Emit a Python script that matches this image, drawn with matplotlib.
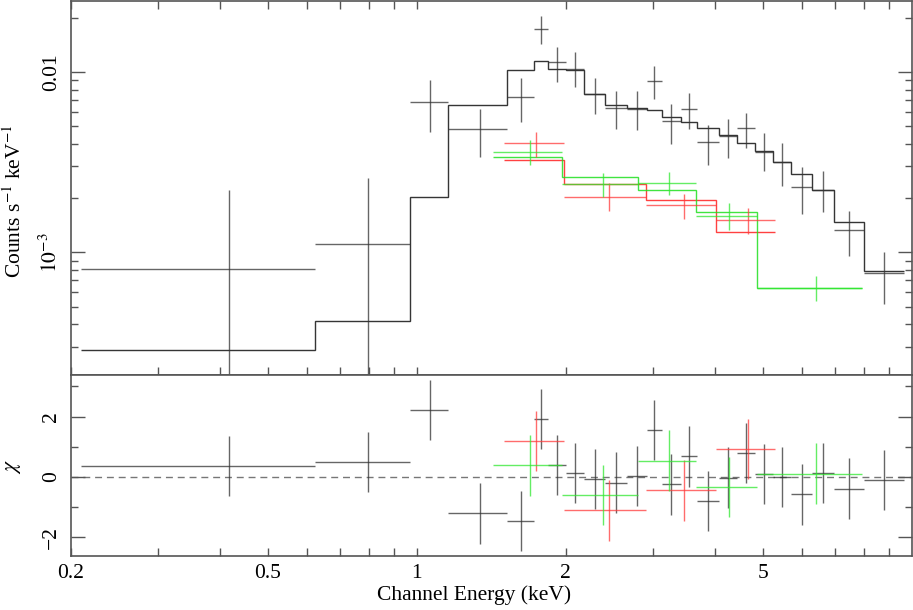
import numpy as np
import matplotlib
matplotlib.use('Agg')
import matplotlib.pyplot as plt
from matplotlib.ticker import FixedLocator, FuncFormatter, LogLocator, NullFormatter

###############################
# data
###############################

# black spectrum
black_edges = [0.2093, 0.6230, 0.9679, 1.1578, 1.5249, 1.7233, 1.8452, 2.0066, 2.1748,
               2.4058, 2.6600, 2.9148, 3.1258, 3.4151, 3.6907, 4.0804, 4.4310, 4.8175,
               5.2457, 5.7142, 6.3012, 6.9663, 8.0108, 9.635]
black_center = [0.4164, 0.7974, 1.0638, 1.3423, 1.6227, 1.7832, 1.9238, 2.0883, 2.2886,
                2.5317, 2.7866, 3.0166, 3.2696, 3.5489, 3.8769, 4.2645, 4.6185, 5.0236,
                5.4813, 6.0032, 6.6191, 7.4834, 8.8118]
black_rate = [8.08e-4, 1.117e-3, 6.79e-3, 4.83e-3, 7.26e-3, 1.734e-2, 1.132e-2, 1.043e-2,
              7.52e-3, 6.33e-3, 6.28e-3, 8.95e-3, 5.32e-3, 6.23e-3, 4.08e-3, 4.41e-3,
              4.87e-3, 3.61e-3, 3.17e-3, 2.31e-3, 2.21e-3, 1.325e-3, 7.67e-4]
black_hi = [2.21e-3, 2.57e-3, 8.99e-3, 6.25e-3, 9.26e-3, 2.05e-2, 1.372e-2, 1.287e-2,
            9.23e-3, 7.84e-3, 7.84e-3, 1.076e-2, 6.67e-3, 7.64e-3, 5.08e-3, 5.48e-3,
            5.90e-3, 4.57e-3, 4.02e-3, 2.98e-3, 2.83e-3, 1.70e-3, 1.01e-3]
black_lo = [1e-5, 1e-5, 4.66e-3, 3.37e-3, 5.27e-3, 1.425e-2, 8.83e-3, 8.25e-3,
            5.84e-3, 4.81e-3, 4.78e-3, 7.08e-3, 4.00e-3, 4.83e-3, 3.07e-3, 3.33e-3,
            3.80e-3, 2.82e-3, 2.33e-3, 1.64e-3, 1.67e-3, 9.50e-4, 5.14e-4]
black_model = [2.89e-4, 4.18e-4, 2.03e-3, 6.53e-3, 1.022e-2, 1.147e-2, 1.035e-2, 1.026e-2,
               7.55e-3, 6.58e-3, 6.31e-3, 6.15e-3, 5.65e-3, 5.30e-3, 4.89e-3, 4.45e-3,
               4.03e-3, 3.65e-3, 3.16e-3, 2.71e-3, 2.23e-3, 1.47e-3, 7.87e-4]
black_chi = [0.36, 0.49, 2.21, -1.21, -1.47, 1.92, 0.40, 0.13, -0.06, -0.19, 0.02, 1.56,
             -0.25, 0.68, -0.80, -0.02, 0.79, 0.10, 0.0, -0.58, 0.13, -0.39, -0.11]

# red spectrum
red_edges = [1.5010, 1.9845, 2.9107, 4.0276, 5.3046]
red_center = [1.7437, 2.4484, 3.4706, 4.6687]
red_rate = [4.02e-3, 2.03e-3, 1.82e-3, 1.52e-3]
red_hi = [4.66e-3, 2.41e-3, 2.10e-3, 1.76e-3]
red_lo = [3.38e-3, 1.69e-3, 1.53e-3, 1.27e-3]
red_model = [3.24e-3, 2.40e-3, 1.94e-3, 1.30e-3]
red_chi = [1.18, -1.11, -0.45, 0.92]

# green spectrum
green_edges = [1.4262, 1.9697, 2.7957, 3.6735, 4.8782, 7.9513]
green_center = [1.6967, 2.3836, 3.2336, 4.2762, 6.4076]
green_rate = [3.61e-3, 2.40e-3, 2.44e-3, 1.60e-3, 6.31e-4]
green_hi = [4.19e-3, 2.77e-3, 2.79e-3, 1.87e-3, 7.36e-4]
green_lo = [3.07e-3, 2.03e-3, 2.07e-3, 1.325e-3, 5.34e-4]
green_model = [3.38e-3, 2.63e-3, 2.23e-3, 1.68e-3, 6.31e-4]
green_chi = [0.38, -0.60, 0.54, -0.34, 0.11]

x_ticks = [0.2, 0.3, 0.4, 0.5, 0.6, 0.7, 0.8, 0.9, 1, 2, 3, 4, 5, 6, 7, 8, 9]
x_labels = {0.2: '0.2', 0.5: '0.5', 1: '1', 2: '2', 5: '5'}

###############################
# style
###############################

plt.rcParams['font.family'] = ['Liberation Serif', 'DejaVu Serif']
plt.rcParams['mathtext.fontset'] = 'stix'
plt.rcParams['font.size'] = 15.5
plt.rcParams['axes.unicode_minus'] = True

spine_col = '#555555'
sets = [
    ('#333333', '#111111', black_edges, black_center, black_rate, black_hi, black_lo, black_model, black_chi),
    ('#ff3b3b', '#ff2020', red_edges, red_center, red_rate, red_hi, red_lo, red_model, red_chi),
    ('#30e830', '#20e020', green_edges, green_center, green_rate, green_hi, green_lo, green_model, green_chi),
]

fig = plt.figure(figsize=(9.13, 6.10), dpi=100)
ax1 = fig.add_axes([0.0778, 0.386, 0.9206, 0.6124])
ax2 = fig.add_axes([0.0778, 0.0885, 0.9206, 0.2975], sharex=ax1)

for col, mcol, edges, cen, rate, hi, lo, model, chi in sets:
    edges = np.array(edges)
    cen = np.array(cen)
    rate = np.array(rate)
    xerr = [cen - edges[:-1], edges[1:] - cen]
    yerr = [rate - np.array(lo), np.array(hi) - rate]
    ax1.errorbar(cen, rate, xerr=xerr, yerr=yerr, fmt='none', ecolor=col,
                 elinewidth=1.0, capsize=0, alpha=0.75)
    ax1.stairs(model, edges, baseline=None, color=mcol, lw=1.0, alpha=0.85)
    ax2.errorbar(cen, chi, xerr=xerr, yerr=1.0, fmt='none', ecolor=col,
                 elinewidth=1.0, capsize=0, alpha=0.75)

ax2.axhline(0, color='#777777', lw=1.0, ls=(0, (5, 3.5)), zorder=0)

###############################
# axes
###############################

ax1.set_xscale('log')
ax1.set_yscale('log')
ax1.set_xlim(0.2, 10)
ax1.set_ylim(2.1e-4, 0.0248)
ax2.set_ylim(-2.62, 3.39)

ax2.xaxis.set_major_locator(FixedLocator(x_ticks))
ax2.xaxis.set_minor_locator(FixedLocator([]))
ax2.xaxis.set_major_formatter(FuncFormatter(lambda v, p: x_labels.get(round(v, 3), '')))
ax1.tick_params(axis='x', labelbottom=False)

ax1.yaxis.set_major_locator(LogLocator(base=10))
ax1.yaxis.set_minor_locator(LogLocator(base=10, subs=np.arange(2, 10)))
ax1.yaxis.set_minor_formatter(NullFormatter())
ax1.yaxis.set_major_formatter(FuncFormatter(
    lambda v, p: '0.01' if abs(v - 0.01) < 1e-6 else r'$10^{%d}$' % round(np.log10(v))))

ax2.yaxis.set_major_locator(FixedLocator([-2, 0, 2]))
ax2.yaxis.set_minor_locator(FixedLocator([-1, 1, 3]))

for ax in (ax1, ax2):
    for s in ax.spines.values():
        s.set_color(spine_col)
        s.set_linewidth(1.2)
    ax.tick_params(which='both', direction='in', right=True, color=spine_col, width=1.0)
    ax.tick_params(axis='y', which='major', length=10, pad=7, labelrotation=90)
    ax.tick_params(axis='y', which='minor', length=5)
    ax.tick_params(axis='x', which='both', length=6, pad=6)
ax1.tick_params(axis='x', which='both', top=True)
ax2.tick_params(axis='x', which='both', top=False)

fig.canvas.draw()
for ax in (ax1, ax2):
    for lab in ax.get_yticklabels():
        lab.set_verticalalignment('center')

ax1.set_ylabel(r'Counts s$^{-1}$ keV$^{-1}$')
ax1.yaxis.set_label_coords(-0.053, 0.4645)
ax2.set_ylabel(r'$\chi$')
ax2.yaxis.set_label_coords(-0.057, 0.492)
ax2.set_xlabel('Channel Energy (keV)')
ax2.xaxis.set_label_coords(0.479, -0.16)

plt.savefig('out.png', dpi=100)
